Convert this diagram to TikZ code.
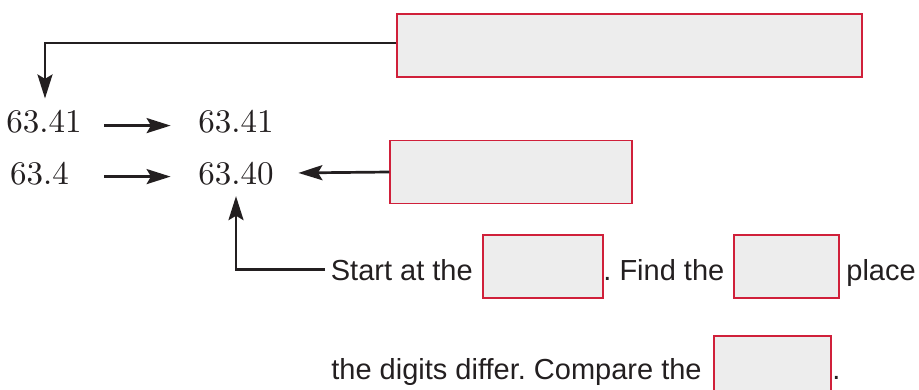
\documentclass[tikz,border=0pt]{standalone}
\usepackage{fontspec}
\setsansfont{Liberation Sans}
\newfontfamily\numfont{lmroman10-regular}[Extension=.otf]
\usetikzlibrary{arrows.meta,positioning}
\definecolor{boxred}{RGB}{208,32,58}
\definecolor{boxgray}{RGB}{237,237,237}
\definecolor{ink}{RGB}{35,31,32}
\frenchspacing

\begin{document}
\begin{tikzpicture}[x=0.5pt, y=-0.5pt,
    blank/.style={draw=boxred, fill=boxgray, line width=0.75pt, minimum width=#1, minimum height=31.5pt, inner sep=0pt},
    num/.style={font=\numfont\fontsize{16.5}{20}\selectfont, text=ink, inner sep=0pt, anchor=base},
    txt/.style={font=\sffamily\fontsize{14.5}{17}\selectfont, text=ink, inner sep=0pt, anchor=base west},
    arr/.style={draw=ink, line width=1.35pt, -{Stealth[length=12pt,width=7.5pt,inset=2.2pt]}}]
    \useasboundingbox (0,0) rectangle (919,390);

    % numbers
    \node[num] (A) at (44,133) {63.41};
    \node[num] (B) at (236,133) {63.41};
    \node[num] (C) at (39.5,184) {63.4};
    \node[num] (D) at (236,184) {63.40};

    % empty boxes
    \node[blank=232.5pt] (topbox) at (629.5,45.5) {};
    \node[blank=121pt] (midbox) at (511,172) {};

    % sentence with blanks
    \node[txt] (start) at (330.5,280) {Start at the};
    \node[blank=60pt] (b1) at (543,266.5) {};
    \node[txt] (find) at (603,280) {. Find the};
    \node[blank=52.5pt] (b2) at (786.5,266.5) {};
    \node[txt] (place) at (846,280) {place};
    \node[txt] (differ) at (331,379) {the digits differ. Compare the};
    \node[blank=58.5pt] (b3) at (772.5,367.5) {};
    \node[txt] (dot) at (832,379) {.};

    % arrows
    \draw[arr, shorten <=11.2pt, shorten >=13.7pt] ([yshift=-1.7pt]A.east) -- ([yshift=-1.7pt]B.west);
    \draw[arr, shorten <=17.5pt, shorten >=13.7pt] ([yshift=-1.7pt]C.east) -- ([yshift=-1.7pt]D.west);
    \draw[arr, shorten >=5.9pt] ([yshift=1.2pt]topbox.west) -| ([xshift=0.5pt]A.north);
    \draw[arr, shorten >=12.2pt] (midbox.west) -- (D.east);
    \draw[arr, shorten <=2.75pt, shorten >=5.5pt] (start.west) -| (D.south);
\end{tikzpicture}
\end{document}
